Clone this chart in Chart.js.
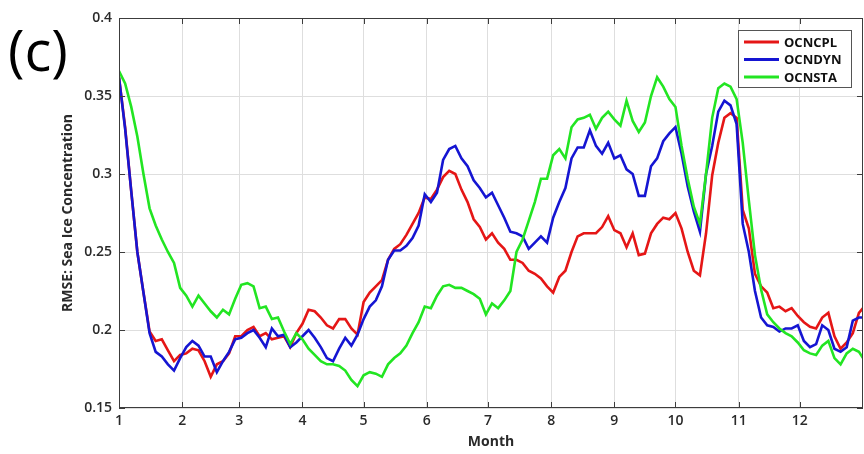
<!DOCTYPE html>
<html>
<head>
<meta charset="utf-8">
<script src="https://cdn.jsdelivr.net/npm/chart.js@4.4.1/dist/chart.umd.min.js"></script>
<style>
  html, body { margin: 0; padding: 0; background: #fff; }
  #wrap { width: 864px; height: 454px; }
</style>
</head>
<body>
<div id="wrap"><canvas id="myChart" width="864" height="454"></canvas></div>
<script>
// day of year (0 = 1 Jan), sampled every 3 days
const days = [
  0,3,6,9,12,15,18,21,24,27,
  30,33,36,39,42,45,48,51,54,57,
  60,63,66,69,72,75,78,81,84,87,
  90,93,96,99,102,105,108,111,114,117,
  120,123,126,129,132,135,138,141,144,147,
  150,153,156,159,162,165,168,171,174,177,
  180,183,186,189,192,195,198,201,204,207,
  210,213,216,219,222,225,228,231,234,237,
  240,243,246,249,252,255,258,261,264,267,
  270,273,276,279,282,285,288,291,294,297,
  300,303,306,309,312,315,318,321,324,327,
  330,333,336,339,342,345,348,351,354,357,
  360,363,365
];

// month boundaries (day of year) and their tick labels
const monthStarts = [0,31,59,90,120,151,181,212,243,273,304,334];
const monthLabels = ["1","2","3","4","5","6","7","8","9","10","11","12"];

const yTicks = [0.15, 0.2, 0.25, 0.3, 0.35, 0.4];

const ocncpl = [
  0.362,0.330,0.289,0.250,0.224,0.199,0.193,0.194,0.187,0.180,
  0.184,0.185,0.188,0.187,0.180,0.170,0.178,0.180,0.185,0.196,
  0.196,0.200,0.202,0.196,0.198,0.194,0.195,0.196,0.189,0.198,
  0.204,0.213,0.212,0.208,0.203,0.201,0.207,0.207,0.201,0.197,
  0.218,0.224,0.228,0.232,0.245,0.252,0.255,0.261,0.268,0.275,
  0.285,0.284,0.290,0.298,0.302,0.300,0.290,0.282,0.271,0.266,
  0.258,0.262,0.256,0.252,0.245,0.245,0.243,0.238,0.236,0.233,
  0.228,0.224,0.234,0.238,0.250,0.260,0.262,0.262,0.262,0.266,
  0.273,0.264,0.262,0.253,0.262,0.248,0.249,0.262,0.268,0.272,
  0.271,0.275,0.265,0.250,0.238,0.235,0.262,0.299,0.320,0.336,
  0.339,0.336,0.277,0.265,0.236,0.228,0.224,0.214,0.215,0.212,
  0.214,0.209,0.205,0.202,0.201,0.208,0.211,0.196,0.188,0.192,
  0.198,0.211,0.214
];

const ocndyn = [
  0.362,0.329,0.289,0.250,0.224,0.198,0.186,0.183,0.178,0.174,
  0.182,0.189,0.193,0.190,0.183,0.183,0.173,0.180,0.186,0.194,
  0.195,0.198,0.200,0.195,0.189,0.201,0.196,0.197,0.189,0.192,
  0.196,0.200,0.195,0.189,0.182,0.180,0.188,0.195,0.190,0.197,
  0.207,0.215,0.219,0.228,0.245,0.251,0.251,0.254,0.259,0.267,
  0.287,0.282,0.288,0.309,0.316,0.318,0.310,0.305,0.296,0.291,
  0.285,0.288,0.280,0.272,0.263,0.262,0.260,0.252,0.256,0.260,
  0.256,0.272,0.282,0.291,0.310,0.317,0.317,0.328,0.318,0.313,
  0.320,0.310,0.312,0.303,0.300,0.286,0.286,0.305,0.310,0.321,
  0.326,0.330,0.313,0.292,0.276,0.263,0.300,0.318,0.340,0.347,
  0.344,0.332,0.268,0.250,0.225,0.208,0.203,0.202,0.199,0.201,
  0.201,0.203,0.193,0.189,0.191,0.203,0.200,0.188,0.186,0.189,
  0.206,0.208,0.208
];

const ocnsta = [
  0.366,0.358,0.343,0.324,0.300,0.278,0.267,0.258,0.250,0.243,
  0.227,0.222,0.215,0.222,0.217,0.212,0.208,0.213,0.210,0.220,
  0.229,0.230,0.228,0.214,0.215,0.207,0.208,0.199,0.191,0.198,
  0.194,0.188,0.184,0.180,0.178,0.178,0.177,0.174,0.168,0.164,
  0.171,0.173,0.172,0.170,0.178,0.182,0.185,0.190,0.198,0.205,
  0.215,0.214,0.222,0.228,0.229,0.227,0.227,0.225,0.223,0.220,
  0.210,0.217,0.214,0.219,0.225,0.250,0.258,0.270,0.282,0.297,
  0.297,0.312,0.316,0.310,0.330,0.335,0.336,0.338,0.329,0.336,
  0.340,0.335,0.331,0.347,0.334,0.327,0.333,0.350,0.362,0.356,
  0.348,0.343,0.318,0.297,0.279,0.268,0.300,0.336,0.355,0.358,
  0.356,0.348,0.320,0.283,0.248,0.226,0.210,0.205,0.201,0.198,
  0.196,0.192,0.187,0.185,0.184,0.190,0.193,0.182,0.178,0.185,
  0.188,0.186,0.182
];

const seriesNames = ["OCNCPL", "OCNDYN", "OCNSTA"];
const seriesColors = ["#e51616", "#1515d2", "#22e522"];

const toPoints = vals => vals.map((v, i) => ({ x: days[i], y: v }));

// box, inner ticks, legend and panel letter drawn on top like the matlab figure
const figureExtras = {
  id: "figureExtras",
  afterDraw(chart) {
    const { ctx, chartArea: a, scales } = chart;
    ctx.save();
    ctx.strokeStyle = "#3c3c3c";
    ctx.lineWidth = 1;
    ctx.strokeRect(a.left + 0.5, a.top + 0.5, a.width - 1, a.height - 1);

    ctx.beginPath();
    monthStarts.forEach(d => {
      const px = Math.round(scales.x.getPixelForValue(d)) + 0.5;
      ctx.moveTo(px, a.top); ctx.lineTo(px, a.top + 6);
      ctx.moveTo(px, a.bottom); ctx.lineTo(px, a.bottom - 6);
    });
    yTicks.forEach(v => {
      const py = Math.round(scales.y.getPixelForValue(v)) + 0.5;
      ctx.moveTo(a.left, py); ctx.lineTo(a.left + 6, py);
      ctx.moveTo(a.right, py); ctx.lineTo(a.right - 6, py);
    });
    ctx.stroke();

    // legend box
    const bx = 738, by = 30, bw = 113, bh = 57;
    ctx.fillStyle = "#fff";
    ctx.fillRect(bx, by, bw, bh);
    ctx.strokeStyle = "#555";
    ctx.strokeRect(bx + 0.5, by + 0.5, bw, bh);
    ctx.font = "bold 13px 'Open Sans'";
    ctx.textBaseline = "middle";
    seriesNames.forEach((name, i) => {
      const y = 42 + i * 17.5;
      ctx.strokeStyle = seriesColors[i];
      ctx.lineWidth = 3;
      ctx.beginPath();
      ctx.moveTo(744, y); ctx.lineTo(779, y);
      ctx.stroke();
      ctx.fillStyle = "#111";
      ctx.fillText(name, 784, y + 1);
    });

    // panel letter
    ctx.fillStyle = "#000";
    ctx.textBaseline = "alphabetic";
    ctx.font = "56px 'Open Sans'";
    ctx.fillText("(c)", 8, 71);
    ctx.restore();
  }
};

const tickFont = { family: "'Open Sans'", size: 14, weight: "600" };

new Chart(document.getElementById("myChart"), {
  type: "line",
  data: {
    datasets: [
      { label: seriesNames[0], data: toPoints(ocncpl), borderColor: seriesColors[0], order: 3 },
      { label: seriesNames[1], data: toPoints(ocndyn), borderColor: seriesColors[1], order: 2 },
      { label: seriesNames[2], data: toPoints(ocnsta), borderColor: seriesColors[2], order: 1 },
    ],
  },
  options: {
    responsive: false,
    animation: false,
    devicePixelRatio: 1,
    layout: { padding: { left: 56, top: 18, right: 1, bottom: 0 } },
    elements: {
      line: { borderWidth: 2.6, tension: 0, fill: false },
      point: { radius: 0 },
    },
    plugins: {
      legend: { display: false },
      tooltip: { enabled: false },
    },
    scales: {
      x: {
        type: "linear",
        min: 0,
        max: 365,
        afterBuildTicks: s => { s.ticks = monthStarts.map(v => ({ value: v })); },
        afterFit: s => { s.height = 46; },
        ticks: {
          autoSkip: false,
          maxRotation: 0,
          padding: 5,
          color: "#2a2a2a",
          font: tickFont,
          callback: (v, i) => monthLabels[i],
        },
        grid: { color: "#dedede", drawTicks: false },
        border: { display: false },
        title: { display: true, text: "Month", color: "#2a2a2a", font: { family: "'Open Sans'", size: 14, weight: "bold" } },
      },
      y: {
        min: 0.15,
        max: 0.4,
        afterBuildTicks: s => { s.ticks = yTicks.map(v => ({ value: v })); },
        afterFit: s => { s.width = 63; },
        ticks: {
          padding: 7,
          color: "#2a2a2a",
          font: tickFont,
          callback: v => String(+v.toFixed(2)),
        },
        grid: { color: "#dedede", drawTicks: false },
        border: { display: false },
        title: { display: true, text: "RMSE: Sea Ice Concentration", color: "#2a2a2a", font: { family: "'Open Sans'", size: 14, weight: "bold" } },
      },
    },
  },
  plugins: [figureExtras],
});
</script>
</body>
</html>
